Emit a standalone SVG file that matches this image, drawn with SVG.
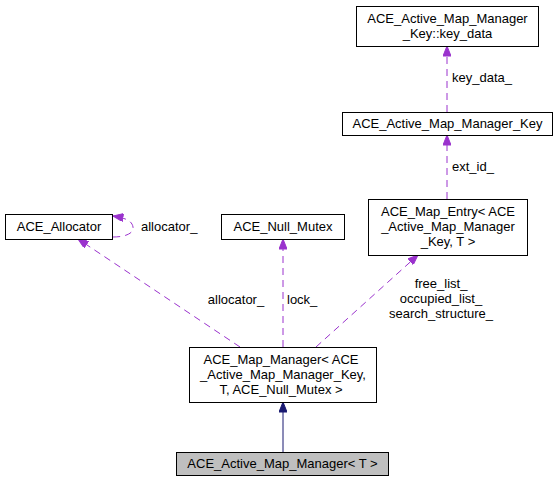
<svg xmlns="http://www.w3.org/2000/svg" width="559" height="484" viewBox="0 0 559 484">
<style>
  .box { fill: #ffffff; stroke: #000000; stroke-width: 1; }
  .hl { fill: #bfbfbf; stroke: #000000; stroke-width: 1; }
  text { font-family: "Liberation Sans", Arial, Helvetica, sans-serif; font-size: 13px; fill: #000000; }
  .c { text-anchor: middle; }
  .dep { fill: none; stroke: #9a32cd; stroke-width: 1; stroke-dasharray: 7,5; }
  .inh { fill: none; stroke: #191970; stroke-width: 1; }
</style>
<defs>
  <marker id="pa" viewBox="0 0 10 8" refX="10" refY="4" markerWidth="11" markerHeight="8" markerUnits="userSpaceOnUse" orient="auto">
    <path d="M0,0 L10,4 L0,8 z" fill="#9a32cd" stroke="#9a32cd"/>
  </marker>
  <marker id="na" viewBox="0 0 10 8" refX="10" refY="4" markerWidth="11" markerHeight="8" markerUnits="userSpaceOnUse" orient="auto">
    <path d="M0,0 L10,4 L0,8 z" fill="#191970" stroke="#191970"/>
  </marker>
</defs>
<rect width="559" height="484" fill="#ffffff"/>

<g id="connectors">
  <path class="dep" d="M447,112 L447,46" marker-end="url(#pa)"/>
  <path class="dep" d="M447,199 L447,135" marker-end="url(#pa)"/>
  <path class="dep" d="M316,347 L418,255" marker-end="url(#pa)"/>
  <path class="dep" d="M240,347 L78,239" marker-end="url(#pa)"/>
  <path class="dep" d="M283,347 L283,239" marker-end="url(#pa)"/>
  <path class="dep" d="M113,237 C126,237 134,233 133,227 C132,221 126,218 113,216" marker-end="url(#pa)"/>
  <path class="inh" d="M283,452 L283,402" marker-end="url(#na)"/>
  <text x="452" y="82">key_data_</text>
  <text x="452" y="171">ext_id_</text>
  <text class="c" x="441" y="288">free_list_</text>
  <text class="c" x="441" y="303">occupied_list_</text>
  <text class="c" x="441" y="318">search_structure_</text>
  <text class="c" x="236" y="304">allocator_</text>
  <text x="287" y="304">lock_</text>
  <text x="141" y="231">allocator_</text>
</g>

<g id="node_key_data">
  <rect class="box" x="356.5" y="6.5" width="182" height="40"/>
  <text class="c" x="447.5" y="23">ACE_Active_Map_Manager</text>
  <text class="c" x="447.5" y="38">_Key::key_data</text>
</g>

<g id="node_manager_key">
  <rect class="box" x="342.5" y="112.5" width="210" height="23"/>
  <text class="c" x="447.5" y="128">ACE_Active_Map_Manager_Key</text>
</g>

<g id="node_map_entry">
  <rect class="box" x="368.5" y="199.5" width="159" height="56"/>
  <text class="c" x="448" y="216">ACE_Map_Entry&lt; ACE</text>
  <text class="c" x="448" y="231">_Active_Map_Manager</text>
  <text class="c" x="448" y="246">_Key, T &gt;</text>
</g>

<g id="node_allocator">
  <rect class="box" x="5.5" y="214.5" width="107" height="25"/>
  <text class="c" x="59" y="231">ACE_Allocator</text>
</g>

<g id="node_null_mutex">
  <rect class="box" x="221.5" y="214.5" width="123" height="25"/>
  <text class="c" x="283" y="231">ACE_Null_Mutex</text>
</g>

<g id="node_map_manager">
  <rect class="box" x="189.5" y="347.5" width="187" height="55"/>
  <text class="c" x="281" y="364">ACE_Map_Manager&lt; ACE</text>
  <text class="c" x="283" y="379">_Active_Map_Manager_Key,</text>
  <text class="c" x="281" y="394">T, ACE_Null_Mutex &gt;</text>
</g>

<g id="node_active_map_manager">
  <rect class="hl" x="176.5" y="452.5" width="212" height="23"/>
  <text class="c" x="282.5" y="468">ACE_Active_Map_Manager&lt; T &gt;</text>
</g>
</svg>
